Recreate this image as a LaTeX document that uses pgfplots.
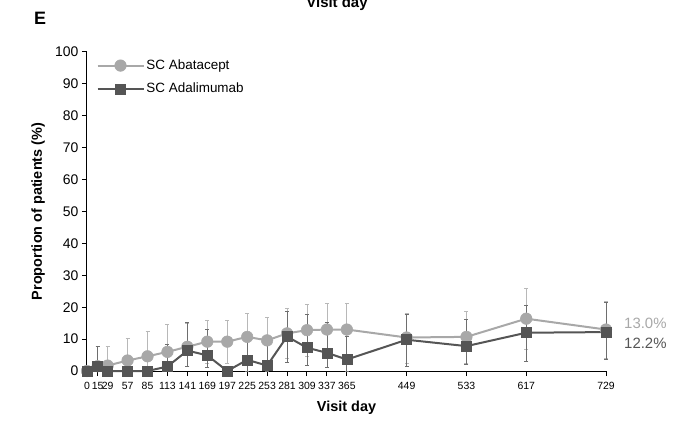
\documentclass[border=0pt]{standalone}
\usepackage{pgfplots}
\usepackage{pgfplotstable}
\pgfplotsset{compat=1.18}
\usepackage{fontspec}
\setmainfont{Liberation Sans}
\definecolor{lightg}{HTML}{A8A8A8}
\definecolor{darkg}{HTML}{555555}
\definecolor{lightbar}{HTML}{B8B8B8}
\definecolor{darkbar}{HTML}{6E6E6E}

\pgfplotstableread{
x    y     plus  minus
0    0     0     0
15   1.5   6.2   1.5
29   1.7   6.0   1.7
57   3.3   6.9   3.3
85   4.6   7.9   4.6
113  6.0   8.6   5.5
141  7.6   7.4   6.1
169  9.2   6.8   6.7
197  9.2   6.8   6.7
225  10.7  7.4   7.4
253  9.6   7.2   7.1
281  11.8  7.7   7.8
309  12.8  8.2   8.2
337  13.0  8.3   8.2
365  13.0  8.3   8.2
449  10.5  7.6   8.0
533  10.7  7.9   8.2
617  16.4  9.6   9.7
729  13.0  8.8   9.0
}\abata

\pgfplotstableread{
x    y     plus  minus
0    0     0     0
15   1.5   6.2   1.5
29   0     0     0
57   0     0     0
85   0     0     0
113  1.4   7.0   1.4
141  6.4   8.8   4.9
169  4.9   8.2   3.7
197  0     0     0
225  3.5   6.8   3.5
253  1.7   6.5   1.7
281  10.8  7.8   8.1
309  7.3   10.5  5.6
337  5.7   9.4   4.7
365  3.6   7.4   3.6
449  9.8   7.8   8.3
533  7.8   8.3   5.6
617  12.0  8.5   9.0
729  12.2  9.3   8.6
}\adali

\begin{document}
\begin{tikzpicture}
\path[use as bounding box] (-87bp,-51bp) rectangle (586bp,371bp);
\begin{axis}[
  width=519bp, height=319bp, scale only axis,
  at={(0,0)}, anchor=south west,
  xmin=0, xmax=729, ymin=0, ymax=100,
  clip=false,
  axis lines=left,
  axis line style={-, line width=1bp, black},
  xtick={0,15,29,57,85,113,141,169,197,225,253,281,309,337,365,449,533,617,729},
  ytick={0,10,...,100},
  tick align=outside,
  major tick length=5bp,
  tick style={line width=1bp, black},
  /pgf/number format/assume math mode=true,
  /pgf/number format/set thousands separator={},
  xticklabel style={font=\fontsize{10.5}{11}\selectfont, inner sep=0.5bp, anchor=north, yshift=-5bp, text height=7.5bp, text depth=0bp},
  yticklabel style={font=\fontsize{14}{16}\selectfont},
  xlabel={\textbf{Visit day}},
  ylabel={\textbf{Proportion of patients (\%)}},
  xlabel style={at={(axis description cs:0.5,-0.116)}, anchor=center, font=\fontsize{14.5}{16}\selectfont},
  ylabel style={at={(axis description cs:-0.094,0.5)}, anchor=center, font=\fontsize{14.5}{16}\selectfont},
  legend style={at={(0.016,0.985)}, anchor=north west, draw=none, fill=none,
    font=\fontsize{13.5}{15}\selectfont, row sep=8bp, inner sep=1bp},
  legend cell align=left,
  legend image code/.code={\draw[mark repeat=2,mark phase=2,#1] plot coordinates {(0bp,0bp) (23bp,0bp) (46bp,0bp)};},
]
\addplot[color=lightg, line width=2bp, mark=*, mark size=5.8bp,
  mark options={fill=lightg, draw=lightg, line width=0.5bp},
  error bars/.cd, y dir=both, y explicit,
  error bar style={line width=0.8bp, color=lightbar},
  error mark options={rotate=90, mark size=2bp, line width=0.8bp, color=lightbar}]
  table[x=x, y=y, y error plus=plus, y error minus=minus] {\abata};
\addlegendentry{SC Abatacept}
\addplot[color=darkg, line width=2bp, mark=square*, mark size=5bp,
  mark options={fill=darkg, draw=darkg, line width=0.5bp},
  error bars/.cd, y dir=both, y explicit,
  error bar style={line width=0.8bp, color=darkbar},
  error mark options={rotate=90, mark size=2bp, line width=0.8bp, color=darkbar}]
  table[x=x, y=y, y error plus=plus, y error minus=minus] {\adali};
\addlegendentry{SC Adalimumab}
\node[anchor=west, text=lightg, font=\fontsize{15}{16}\selectfont, inner sep=0pt] at (axis cs:729,15) [xshift=18bp] {13.0\%};
\node[anchor=west, text=darkg, font=\fontsize{15}{16}\selectfont, inner sep=0pt] at (axis cs:729,8.8) [xshift=18bp] {12.2\%};
\end{axis}
\node[font=\fontsize{18}{20}\selectfont\bfseries, anchor=center] at (-47bp,353bp) {E};
\node[font=\fontsize{15}{16}\selectfont\bfseries, anchor=base] at (250bp,363bp) {Visit day};
\end{tikzpicture}
\end{document}
